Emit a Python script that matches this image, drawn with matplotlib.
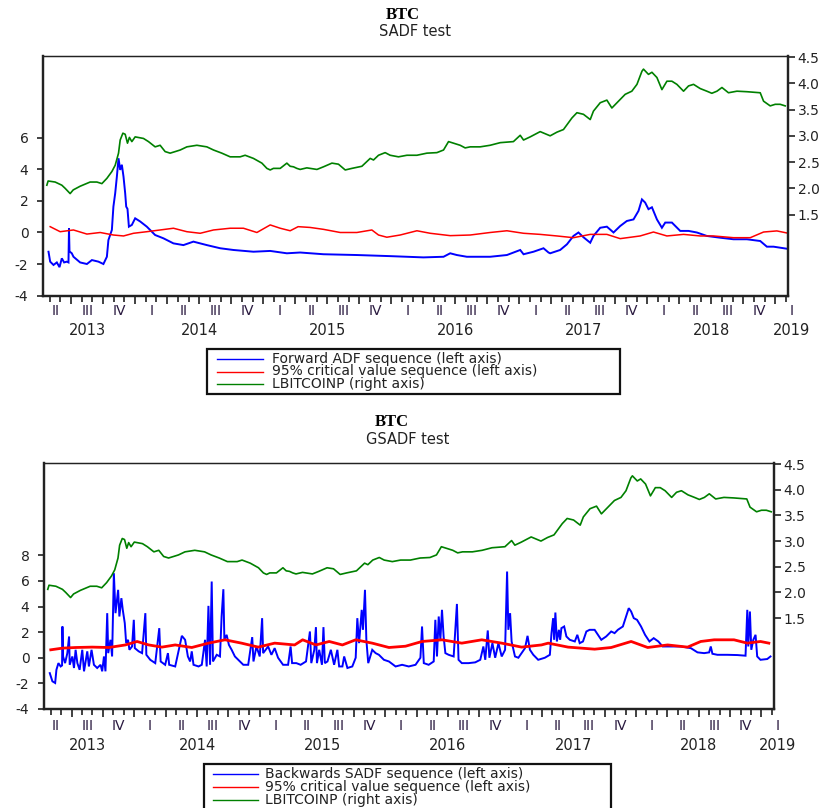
import matplotlib
matplotlib.use("Agg")
import matplotlib.pyplot as plt
import matplotlib.transforms as mtransforms
from matplotlib.lines import Line2D
from matplotlib.patches import Rectangle
import numpy as np

plt.rcParams['font.family'] = ['DejaVu Sans']
plt.rcParams['axes.unicode_minus'] = False

W, H = 832, 808

# LBITCOINP (log10 bitcoin price), same series in both panels
price_dates = [
    2013.310, 2013.320, 2013.375, 2013.427, 2013.453, 2013.492, 2013.516, 2013.570,
    2013.648, 2013.701, 2013.740, 2013.779, 2013.818, 2013.844, 2013.870, 2013.883,
    2013.904, 2013.922, 2013.940, 2013.955, 2013.974, 2014.000, 2014.065, 2014.104,
    2014.156, 2014.195, 2014.234, 2014.273, 2014.313, 2014.352, 2014.404, 2014.482,
    2014.560, 2014.612, 2014.677, 2014.742, 2014.820, 2014.859, 2014.924, 2014.990,
    2015.029, 2015.055, 2015.080, 2015.133, 2015.185, 2015.211, 2015.237, 2015.263,
    2015.289, 2015.341, 2015.420, 2015.471, 2015.537, 2015.588, 2015.641, 2015.693,
    2015.771, 2015.836, 2015.862, 2015.901, 2015.953, 2015.992, 2016.057, 2016.123,
    2016.201, 2016.279, 2016.357, 2016.409, 2016.448, 2016.487, 2016.539, 2016.578,
    2016.617, 2016.695, 2016.773, 2016.852, 2016.955, 2017.008, 2017.034, 2017.086,
    2017.164, 2017.242, 2017.295, 2017.346, 2017.412, 2017.451, 2017.502, 2017.555,
    2017.580, 2017.633, 2017.685, 2017.724, 2017.776, 2017.828, 2017.880, 2017.920,
    2017.959, 2017.971, 2018.010, 2018.037, 2018.076, 2018.115, 2018.154, 2018.193,
    2018.232, 2018.284, 2018.323, 2018.362, 2018.414, 2018.466, 2018.505, 2018.545,
    2018.584, 2018.635, 2018.701, 2018.779, 2018.883, 2018.909, 2018.961, 2019.000,
    2019.039, 2019.078]
lbitcoinp = [
    2.06, 2.14, 2.12, 2.06, 2.00, 1.90, 1.97, 2.04,
    2.12, 2.12, 2.09, 2.19, 2.32, 2.44, 2.67, 2.92,
    3.05, 3.03, 2.86, 2.97, 2.89, 2.98, 2.95, 2.89,
    2.79, 2.82, 2.70, 2.67, 2.70, 2.73, 2.79, 2.82,
    2.79, 2.73, 2.67, 2.60, 2.60, 2.63, 2.57, 2.48,
    2.38, 2.35, 2.38, 2.38, 2.48, 2.42, 2.41, 2.38,
    2.36, 2.39, 2.36, 2.41, 2.48, 2.46, 2.35, 2.38,
    2.42, 2.57, 2.54, 2.63, 2.68, 2.63, 2.60, 2.63,
    2.63, 2.67, 2.68, 2.73, 2.89, 2.86, 2.82, 2.77,
    2.79, 2.79, 2.82, 2.87, 2.89, 3.01, 2.92, 2.98,
    3.08, 3.00, 3.07, 3.12, 3.34, 3.44, 3.41, 3.31,
    3.47, 3.63, 3.68, 3.53, 3.66, 3.79, 3.85, 3.98,
    4.23, 4.27, 4.17, 4.21, 4.11, 3.88, 4.04, 4.04,
    3.98, 3.85, 3.95, 3.98, 3.90, 3.85, 3.81, 3.85,
    3.92, 3.82, 3.85, 3.84, 3.82, 3.66, 3.57, 3.60,
    3.60, 3.57]

# SADF panel: forward ADF sequence
fadf_dates = [
    2013.323, 2013.336, 2013.362, 2013.388, 2013.409, 2013.427, 2013.445, 2013.466,
    2013.479, 2013.483, 2013.487, 2013.505, 2013.518, 2013.570, 2013.623, 2013.662,
    2013.713, 2013.752, 2013.779, 2013.791, 2013.818, 2013.830, 2013.844, 2013.857,
    2013.870, 2013.883, 2013.896, 2013.909, 2013.922, 2013.930, 2013.940, 2013.951,
    2013.974, 2014.000, 2014.039, 2014.091, 2014.156, 2014.221, 2014.299, 2014.377,
    2014.455, 2014.560, 2014.664, 2014.768, 2014.924, 2015.055, 2015.185, 2015.289,
    2015.471, 2015.732, 2015.992, 2016.252, 2016.409, 2016.461, 2016.513, 2016.591,
    2016.773, 2016.904, 2017.008, 2017.034, 2017.112, 2017.190, 2017.229, 2017.242,
    2017.320, 2017.373, 2017.424, 2017.463, 2017.502, 2017.555, 2017.580, 2017.633,
    2017.685, 2017.737, 2017.789, 2017.841, 2017.893, 2017.932, 2017.959, 2017.984,
    2018.010, 2018.037, 2018.076, 2018.115, 2018.141, 2018.193, 2018.258, 2018.323,
    2018.388, 2018.466, 2018.570, 2018.674, 2018.779, 2018.883, 2018.935, 2018.987,
    2019.091]
forward_adf = [
    -1.22, -1.85, -2.06, -1.90, -2.20, -1.64, -1.90, -1.85,
    -1.90, 0.27, -1.20, -1.32, -1.54, -1.90, -2.00, -1.75,
    -1.85, -2.00, -1.54, -0.48, 0.16, 1.64, 2.49, 3.54,
    4.71, 3.97, 4.30, 3.54, 2.49, 1.64, 1.50, 0.37,
    0.48, 0.90, 0.70, 0.37, -0.16, -0.37, -0.69, -0.80,
    -0.58, -0.80, -1.00, -1.11, -1.22, -1.17, -1.32, -1.27,
    -1.38, -1.43, -1.50, -1.58, -1.54, -1.32, -1.43, -1.54,
    -1.54, -1.43, -1.11, -1.38, -1.22, -1.00, -1.27, -1.32,
    -1.11, -0.75, -0.22, 0.00, -0.30, -0.65, -0.22, 0.30,
    0.37, 0.00, 0.41, 0.73, 0.83, 1.37, 2.10, 1.90,
    1.48, 1.60, 0.83, 0.30, 0.63, 0.63, 0.10, 0.10,
    0.00, -0.22, -0.33, -0.43, -0.43, -0.54, -0.90, -0.90,
    -1.03]

# SADF panel: 95% critical value sequence
sadf_cv_dates = [
    2013.336, 2013.414, 2013.518, 2013.623, 2013.727, 2013.830, 2013.909, 2013.987,
    2014.091, 2014.195, 2014.299, 2014.404, 2014.508, 2014.612, 2014.742, 2014.846,
    2014.951, 2015.055, 2015.133, 2015.211, 2015.273, 2015.367, 2015.471, 2015.602,
    2015.732, 2015.849, 2015.901, 2015.966, 2016.070, 2016.201, 2016.305, 2016.461,
    2016.617, 2016.773, 2016.904, 2017.034, 2017.164, 2017.295, 2017.424, 2017.555,
    2017.685, 2017.789, 2017.945, 2018.049, 2018.154, 2018.284, 2018.414, 2018.518,
    2018.674, 2018.805, 2018.909, 2019.013, 2019.091]
sadf_cv95 = [
    0.37, 0.05, 0.16, -0.10, 0.00, -0.16, -0.22, -0.05,
    0.05, 0.16, 0.27, 0.05, -0.05, 0.16, 0.27, 0.27,
    0.00, 0.48, 0.27, 0.11, 0.37, 0.32, 0.20, 0.00,
    0.00, 0.16, -0.16, -0.30, -0.16, 0.11, -0.05, -0.20,
    -0.16, 0.00, 0.11, -0.05, -0.12, -0.22, -0.33, -0.12,
    -0.12, -0.39, -0.22, 0.03, -0.22, -0.12, -0.22, -0.22,
    -0.33, -0.33, 0.03, 0.10, -0.03]

# GSADF panel: backwards SADF sequence
bsadf_dates = [
    2013.326, 2013.347, 2013.369, 2013.379, 2013.395, 2013.413, 2013.424, 2013.427,
    2013.432, 2013.448, 2013.466, 2013.480, 2013.485, 2013.506, 2013.519, 2013.532,
    2013.546, 2013.564, 2013.585, 2013.599, 2013.625, 2013.638, 2013.659, 2013.678,
    2013.704, 2013.731, 2013.744, 2013.758, 2013.770, 2013.784, 2013.792, 2013.810,
    2013.823, 2013.837, 2013.850, 2013.871, 2013.881, 2013.897, 2013.908, 2013.924,
    2013.935, 2013.950, 2013.961, 2013.982, 2013.996, 2014.004, 2014.035, 2014.062,
    2014.088, 2014.096, 2014.127, 2014.167, 2014.199, 2014.210, 2014.246, 2014.268,
    2014.278, 2014.326, 2014.379, 2014.405, 2014.427, 2014.445, 2014.458, 2014.472,
    2014.512, 2014.538, 2014.564, 2014.577, 2014.591, 2014.604, 2014.617, 2014.627,
    2014.657, 2014.683, 2014.696, 2014.710, 2014.718, 2014.736, 2014.754, 2014.776,
    2014.802, 2014.842, 2014.869, 2014.908, 2014.940, 2014.950, 2014.974, 2015.000,
    2015.019, 2015.027, 2015.067, 2015.093, 2015.119, 2015.146, 2015.186, 2015.226,
    2015.246, 2015.258, 2015.292, 2015.326, 2015.369, 2015.400, 2015.411, 2015.435,
    2015.448, 2015.456, 2015.474, 2015.496, 2015.508, 2015.519, 2015.540, 2015.567,
    2015.593, 2015.619, 2015.633, 2015.659, 2015.673, 2015.699, 2015.738, 2015.765,
    2015.778, 2015.792, 2015.813, 2015.823, 2015.839, 2015.850, 2015.865, 2015.897,
    2015.924, 2015.950, 2015.990, 2016.030, 2016.083, 2016.135, 2016.188, 2016.242,
    2016.281, 2016.294, 2016.308, 2016.347, 2016.387, 2016.400, 2016.413, 2016.427,
    2016.440, 2016.453, 2016.466, 2016.480, 2016.506, 2016.546, 2016.572, 2016.585,
    2016.611, 2016.665, 2016.718, 2016.758, 2016.783, 2016.798, 2016.818, 2016.831,
    2016.855, 2016.877, 2016.903, 2016.929, 2016.956, 2016.972, 2016.982, 2016.996,
    2017.008, 2017.035, 2017.062, 2017.115, 2017.135, 2017.154, 2017.181, 2017.220,
    2017.273, 2017.313, 2017.326, 2017.339, 2017.347, 2017.357, 2017.369, 2017.385,
    2017.395, 2017.405, 2017.427, 2017.445, 2017.472, 2017.512, 2017.532, 2017.551,
    2017.577, 2017.604, 2017.630, 2017.670, 2017.696, 2017.723, 2017.762, 2017.802,
    2017.829, 2017.855, 2017.895, 2017.921, 2017.942, 2017.961, 2017.982, 2018.008,
    2018.040, 2018.072, 2018.107, 2018.141, 2018.178, 2018.212, 2018.278, 2018.358,
    2018.437, 2018.490, 2018.543, 2018.583, 2018.596, 2018.609, 2018.649, 2018.728,
    2018.808, 2018.873, 2018.887, 2018.895, 2018.908, 2018.919, 2018.935, 2018.953,
    2018.966, 2018.992, 2019.046, 2019.072]
backwards_sadf = [
    -1.20, -1.84, -1.97, -0.94, -0.42, -0.68, -0.60, 2.44,
    0.10, -0.42, 0.36, 1.66, -0.55, 0.10, -0.80, 0.62,
    -0.42, -0.94, 0.62, -1.06, 0.50, -0.68, 0.62, -0.55,
    -0.80, -0.55, -1.06, 0.10, -1.06, 3.48, 0.36, 1.40,
    0.10, 6.60, 3.48, 5.30, 3.22, 4.65, 3.74, 2.70,
    1.14, 1.40, 0.62, 0.88, 2.96, 0.75, 0.50, 0.36,
    3.48, 0.23, -0.16, -0.42, 2.31, -0.29, -0.55, 0.36,
    -0.55, -0.68, 1.71, 1.40, 0.10, -0.29, 0.50, -0.55,
    -0.68, -0.55, 1.40, -0.68, 4.05, -0.55, 5.95, -0.29,
    0.23, 0.10, 3.22, 5.35, 1.40, 1.79, 1.01, 0.62,
    0.10, -0.29, -0.55, -0.55, 1.61, -0.29, 0.88, 0.10,
    3.09, 0.36, 0.88, 0.23, 0.75, 0.00, -0.55, -0.55,
    0.88, -0.42, -0.42, -0.55, -0.29, 2.05, -0.42, 0.62,
    2.39, -0.42, 0.62, -0.55, 2.39, -0.42, -0.29, 0.62,
    -0.55, 0.62, -0.68, -0.68, 0.10, -0.80, -0.68, 0.00,
    3.09, 1.14, 3.74, 2.18, 5.30, 1.40, -0.42, 0.62,
    0.36, 0.23, -0.16, -0.29, -0.68, -0.55, -0.68, -0.55,
    0.00, 2.44, -0.42, -0.55, -0.29, 2.96, 0.10, 3.22,
    1.40, 3.74, 1.66, 0.36, 0.23, 0.10, 4.20, -0.16,
    -0.42, -0.42, -0.36, -0.16, 0.88, -0.16, 2.13, 0.00,
    1.14, 0.00, 1.14, 0.10, 0.62, 6.73, 2.18, 3.48,
    1.27, 0.10, 0.00, 0.75, 1.71, 0.62, 0.23, -0.16,
    0.00, 0.23, 1.92, 3.09, 1.40, 3.53, 1.27, 2.18,
    1.40, 2.31, 2.44, 1.66, 1.40, 1.27, 1.79, 1.14,
    1.27, 2.05, 2.18, 2.18, 1.79, 1.40, 1.66, 2.05,
    1.92, 2.18, 2.44, 3.22, 3.87, 3.61, 3.09, 2.96,
    2.44, 1.79, 1.27, 1.53, 1.27, 0.88, 0.88, 0.88,
    0.75, 0.42, 0.36, 0.42, 0.88, 0.31, 0.23, 0.23,
    0.21, 0.16, 3.74, 0.88, 3.61, 0.62, 1.40, 1.79,
    0.10, -0.16, -0.10, 0.10]

# GSADF panel: 95% critical value sequence
gsadf_cv_dates = [
    2013.334, 2013.427, 2013.532, 2013.665, 2013.797, 2013.929, 2014.022, 2014.115,
    2014.220, 2014.326, 2014.458, 2014.591, 2014.723, 2014.855, 2014.988, 2015.119,
    2015.278, 2015.342, 2015.448, 2015.554, 2015.659, 2015.765, 2015.897, 2016.030,
    2016.162, 2016.294, 2016.453, 2016.611, 2016.770, 2016.929, 2017.088, 2017.246,
    2017.300, 2017.458, 2017.670, 2017.802, 2017.961, 2018.093, 2018.252, 2018.411,
    2018.516, 2018.623, 2018.781, 2018.887, 2018.992, 2019.059]
gsadf_cv95 = [
    0.62, 0.75, 0.80, 0.83, 0.80, 1.00, 1.27, 1.00,
    0.83, 1.00, 0.80, 1.14, 1.40, 1.14, 0.83, 1.14,
    1.00, 1.40, 1.00, 1.27, 1.00, 1.40, 1.14, 0.80,
    0.90, 1.27, 1.40, 1.14, 1.40, 1.14, 0.83, 1.00,
    1.14, 0.83, 0.67, 0.80, 1.27, 0.80, 1.00, 0.83,
    1.27, 1.40, 1.40, 1.14, 1.27, 1.14]

quarter_names = ['I', 'II', 'III', 'IV']
year_list = [2013, 2014, 2015, 2016, 2017, 2018, 2019]
right_ticks = [1.5, 2.0, 2.5, 3.0, 3.5, 4.0, 4.5]

x_start, x_end = 2013.28, 2019.10
TXT = '#222222'
BLUE, RED, GREEN = '#0000ff', '#ff0000', '#008000'


def fx(px):
    return px / W


def fy(py):
    return 1 - py / H


fig = plt.figure(figsize=(W / 100, H / 100), dpi=100)


def time_axis(ax, q_off, y_off):
    ax.set_xlim(x_start, x_end)
    months, quarters = [], []
    for yr in year_list:
        for k in range(12):
            t = yr + k / 12
            if x_start <= t <= x_end:
                months.append(t)
                if k % 3 == 0:
                    quarters.append(t)
    ax.set_xticks(quarters)
    ax.set_xticks(months, minor=True)
    ax.set_xticklabels([])
    ax.tick_params(axis='x', which='major', direction='out', length=5.5, width=1.3, color='#333333')
    ax.tick_params(axis='x', which='minor', direction='out', length=4, width=1.3, color='#333333')
    trans = mtransforms.blended_transform_factory(ax.transData, ax.transAxes)
    for yr in year_list:
        mids = []
        for q in range(4):
            mid = yr + q * 0.25 + 0.125
            if x_start < mid < x_end + 0.05:
                mids.append(mid)
                ax.annotate(quarter_names[q], xy=(mid, 0), xycoords=trans,
                            xytext=(0, -q_off), textcoords='offset points',
                            ha='center', va='center', fontsize=10, color='#2a1a40',
                            annotation_clip=False)
        if mids:
            ax.annotate(str(yr), xy=(np.mean(mids), 0), xycoords=trans,
                        xytext=(0, -y_off), textcoords='offset points',
                        ha='center', va='center', fontsize=10.5, color=TXT,
                        annotation_clip=False)


def panel(box, bx, by, rx, ry, left_lim, left_ticks, right_lim, red_lw, q_off, y_off):
    x0, y0, x1, y1 = box
    ax = fig.add_axes([fx(x0), fy(y1), fx(x1) - fx(x0), fy(y0) - fy(y1)])
    ax.plot(bx, by, color=BLUE, lw=1.4, solid_joinstyle='miter')
    ax.plot(rx, ry, color=RED, lw=red_lw)
    ax.set_ylim(*left_lim)
    ax.set_yticks(left_ticks)
    ax.set_yticklabels([str(t) for t in left_ticks])
    ax.tick_params(axis='y', direction='out', length=4.5, width=1.3, pad=6,
                   labelsize=10, labelcolor=TXT, color='#333333')
    time_axis(ax, q_off, y_off)

    ax2 = ax.twinx()
    ax2.plot(price_dates, lbitcoinp, color=GREEN, lw=1.2)
    ax2.set_ylim(*right_lim)
    ax2.set_yticks(right_ticks)
    ax2.set_yticklabels([f'{t:.1f}' for t in right_ticks])
    ax2.tick_params(axis='y', direction='out', length=5, width=1.3, pad=2,
                    labelsize=10, labelcolor=TXT, color='#333333')
    ax2.set_xlim(x_start, x_end)

    for a in (ax, ax2):
        a.spines['left'].set_linewidth(1.6)
        a.spines['bottom'].set_linewidth(1.6)
        a.spines['right'].set_linewidth(1.6)
        a.spines['top'].set_linewidth(0.9)
        for s in a.spines.values():
            s.set_color('#222222')
    return ax, ax2


def legend_box(box, line_x, text_x, rows, entries):
    x0, y0, x1, y1 = box
    fig.add_artist(Rectangle((fx(x0), fy(y1)), fx(x1) - fx(x0), fy(y0) - fy(y1),
                             transform=fig.transFigure, fill=False, ec='#111111', lw=1.6))
    for (label, color), ry in zip(entries, rows):
        fig.add_artist(Line2D([fx(line_x[0]), fx(line_x[1])], [fy(ry), fy(ry)],
                              transform=fig.transFigure, color=color, lw=1.0))
        fig.text(fx(text_x), fy(ry), label, ha='left', va='center',
                 fontsize=10, color=TXT)


# ---- top panel: SADF ----
panel((43, 56, 788, 296), fadf_dates, forward_adf, sadf_cv_dates, sadf_cv95,
      (-4.03, 11.2), [-4, -2, 0, 2, 4, 6], (-0.05, 4.52), 1.1, 11, 25)
fig.text(fx(403), fy(15), 'BTC', ha='center', va='center', fontsize=12,
         fontweight='bold', family=['Liberation Serif', 'DejaVu Serif'])
fig.text(fx(415), fy(32), 'SADF test', ha='center', va='center', fontsize=10.5, color=TXT)
legend_box((207, 349, 620, 394), (217, 263), 272, [359, 371.5, 384],
           [('Forward ADF sequence (left axis)', BLUE),
            ('95% critical value sequence (left axis)', RED),
            ('LBITCOINP (right axis)', GREEN)])

# ---- bottom panel: GSADF ----
panel((44, 463, 774, 709), bsadf_dates, backwards_sadf, gsadf_cv_dates, gsadf_cv95,
      (-3.98, 15.2), [-4, -2, 0, 2, 4, 6, 8], (-0.27, 4.52), 2.0, 12, 26)
fig.text(fx(392), fy(422), 'BTC', ha='center', va='center', fontsize=12,
         fontweight='bold', family=['Liberation Serif', 'DejaVu Serif'])
fig.text(fx(408), fy(439), 'GSADF test', ha='center', va='center', fontsize=10.5, color=TXT)
legend_box((204, 764, 611, 815), (213, 258), 265, [774, 787, 800],
           [('Backwards SADF sequence (left axis)', BLUE),
            ('95% critical value sequence (left axis)', RED),
            ('LBITCOINP (right axis)', GREEN)])

fig.savefig('out.png', dpi=100)
